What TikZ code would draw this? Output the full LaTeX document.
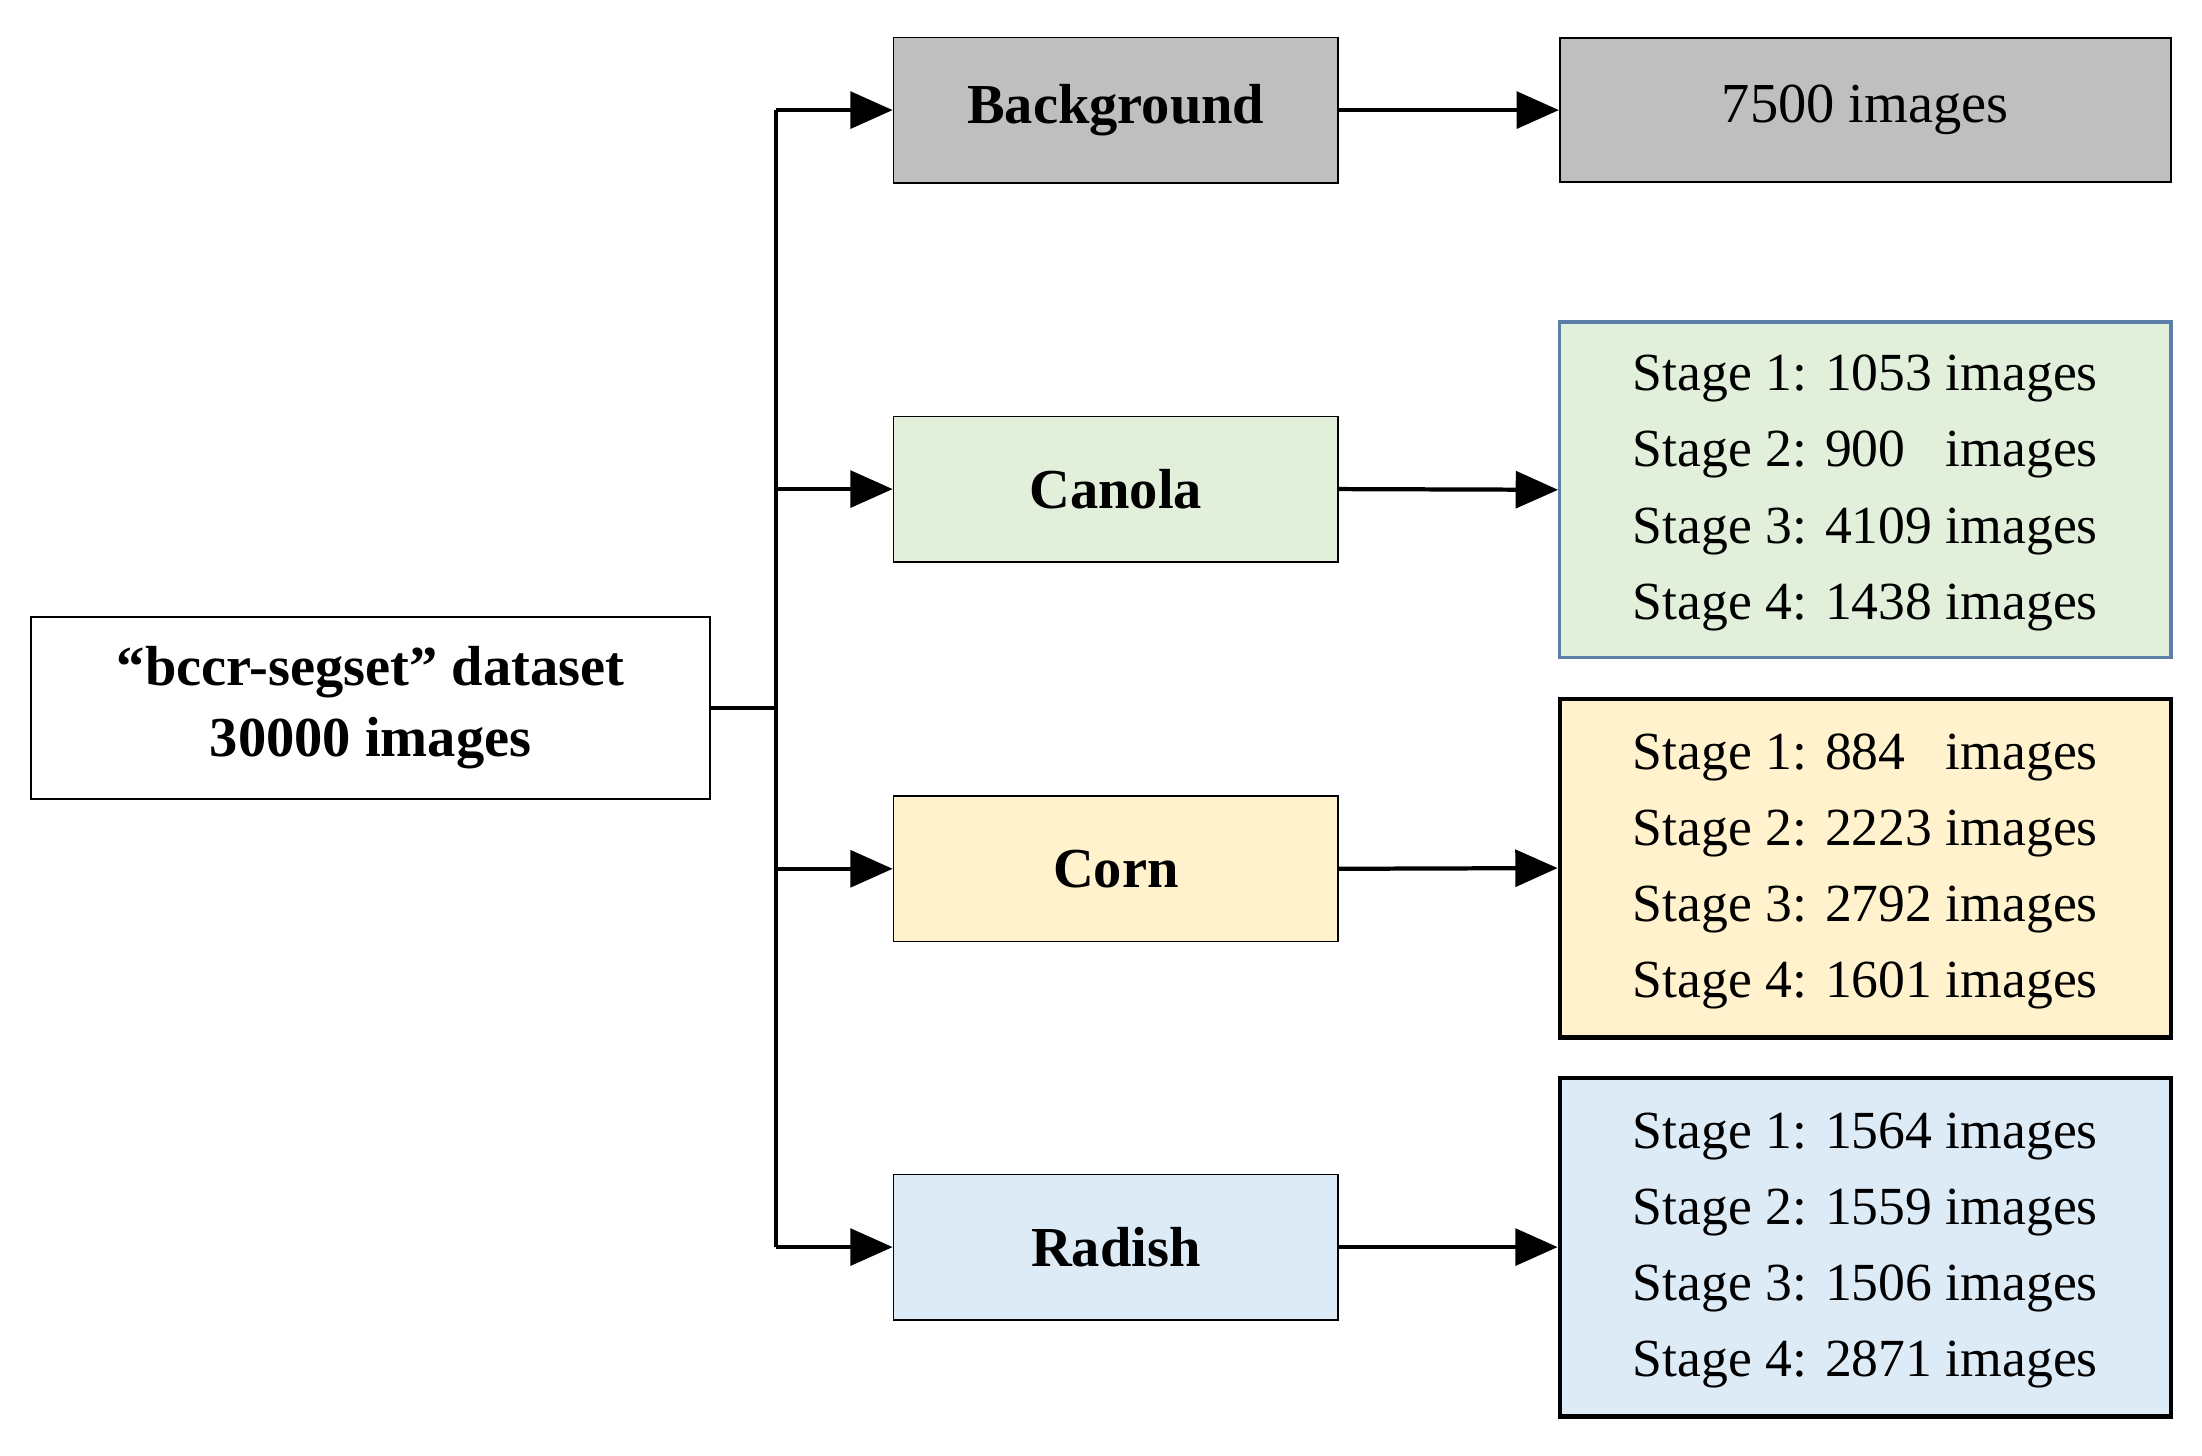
\documentclass[tikz,border=0pt]{standalone}
\usepackage{fontspec}
\setmainfont{Liberation Serif}
\usetikzlibrary{arrows.meta}
\definecolor{bggray}{HTML}{BFBFBF}
\definecolor{canolagreen}{HTML}{E2EFDA}
\definecolor{cornyellow}{HTML}{FFF2CC}
\definecolor{radishblue}{HTML}{DDEBF7}
\definecolor{edgeblue}{HTML}{5B7FA6}
\begin{document}
\begin{tikzpicture}[
  x=0.5pt, y=-0.5pt,
  box/.style={draw, rectangle, line width=0.6pt, inner sep=0pt},
  class/.style={box, minimum width=157.5pt, minimum height=51.5pt, font=\fontsize{20}{24}\selectfont\bfseries},
  count/.style={box, minimum width=216.5pt, font=\fontsize{19}{27}\selectfont, align=left},
  arrow/.style={-{Triangle[length=15pt, width=13pt]}, line width=1.5pt},
  link/.style={line width=1.5pt}
]
\useasboundingbox (0,0) rectangle (1560,1031);
\node[box, minimum width=240.5pt, minimum height=64.5pt, align=center,
  font=\fontsize{20}{25}\selectfont\bfseries] (data) at (262.5,501.5)
  {``bccr-segset'' dataset\\30000 images};
\coordinate (split) at (550,501.5);
\node[class, fill=bggray] (bg) at (790.5,78) {Background};
\node[class, fill=canolagreen] (canola) at (790.5,346.5) {Canola};
\node[class, fill=cornyellow] (corn) at (790.5,615.5) {Corn};
\node[class, fill=radishblue] (radish) at (790.5,883.5) {Radish};
\node[count, fill=bggray, minimum height=51pt, font=\fontsize{20}{24}\selectfont] (bgn) at (1321.5,78) {7500 images};
\node[count, fill=canolagreen, draw=edgeblue, line width=1.2pt, minimum height=119pt] (canolan) at (1321.5,347)
  {\begin{tabular}{@{}l@{ }l@{\ }l@{}}Stage 1: & 1053 & images\\Stage 2: & 900 & images\\Stage 3: & 4109 & images\\Stage 4: & 1438 & images\end{tabular}};
\node[count, fill=cornyellow, line width=1.5pt, minimum height=120pt] (cornn) at (1321.5,615)
  {\begin{tabular}{@{}l@{ }l@{\ }l@{}}Stage 1: & 884 & images\\Stage 2: & 2223 & images\\Stage 3: & 2792 & images\\Stage 4: & 1601 & images\end{tabular}};
\node[count, fill=radishblue, line width=1.5pt, minimum height=120pt] (radishn) at (1321.5,883.5)
  {\begin{tabular}{@{}l@{ }l@{\ }l@{}}Stage 1: & 1564 & images\\Stage 2: & 1559 & images\\Stage 3: & 1506 & images\\Stage 4: & 2871 & images\end{tabular}};
% trunk
\draw[link] (data.east) -- (split);
\draw[link] (split |- bg) -- (split |- radish);
\foreach \c in {bg, canola, corn, radish}
  \draw[arrow] (split |- \c) -- (\c.west);
\draw[arrow] (bg.east) -- (bgn.west);
\draw[arrow] (canola.east) -- (canolan.west);
\draw[arrow] (corn.east) -- (cornn.west);
\draw[arrow] (radish.east) -- (radishn.west);
\end{tikzpicture}
\end{document}
